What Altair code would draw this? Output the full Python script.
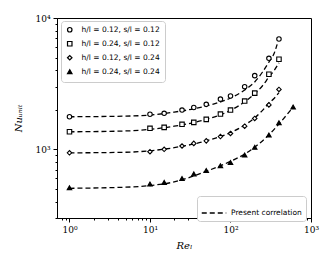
import altair as alt
import pandas as pd

# ---- data ----
series_names = ["h/l = 0.12, s/l = 0.12", "h/l = 0.24, s/l = 0.12",
                "h/l = 0.12, s/l = 0.24", "h/l = 0.24, s/l = 0.24"]

re_a = [1, 10, 15, 25, 35, 50, 75, 100, 150, 200, 300, 400]
nu_circ = [1770, 1850, 1880, 1990, 2080, 2200, 2410, 2550, 3000, 3640, 4930, 6920]
nu_sq = [1360, 1445, 1470, 1550, 1605, 1690, 1855, 1990, 2330, 2680, 3730, 4850]
nu_dia = [940, 960, 1000, 1060, 1110, 1160, 1250, 1320, 1500, 1720, 2180, 2860]
re_tri = [1, 10, 15, 25, 35, 50, 75, 100, 150, 200, 300, 400, 600]
nu_tri = [510, 545, 560, 600, 650, 690, 750, 795, 905, 1035, 1285, 1595, 2100]

corr_re = [1, 5, 10, 20, 50, 100, 150, 200, 250, 300, 350, 380]
corr_circ = [1770, 1790, 1825, 1920, 2140, 2460, 2830, 3260, 3880, 4620, 5410, 6300]
corr_re_b = [1, 5, 10, 20, 50, 100, 150, 200, 250, 300, 350, 400]
corr_sq = [1360, 1380, 1420, 1500, 1690, 1980, 2300, 2650, 3050, 3550, 4000, 4550]
corr_dia = [940, 950, 975, 1030, 1160, 1340, 1530, 1740, 1980, 2250, 2450, 2700]
corr_re_t = [1, 5, 10, 20, 50, 100, 150, 200, 300, 400, 500, 600]
corr_tri = [505, 515, 530, 565, 680, 810, 920, 1040, 1290, 1560, 1830, 2100]

x_ticks = [0.8, 0.9] + [m * 10 ** e for e in range(0, 3) for m in range(1, 10)] + [1000]
y_ticks = [300, 400, 500, 600, 700, 800, 900, 1000, 2000, 3000, 4000, 5000,
           6000, 7000, 8000, 9000, 10000]

# ---- tables ----
pts = []
for name, xs, ys in [(series_names[0], re_a, nu_circ), (series_names[1], re_a, nu_sq),
                     (series_names[2], re_a, nu_dia), (series_names[3], re_tri, nu_tri)]:
    for x, y in zip(xs, ys):
        pts.append({"series": name, "Re": x, "Nu": y})
df_pts = pd.DataFrame(pts)

crv = []
for name, xs, ys in [(series_names[0], corr_re, corr_circ), (series_names[1], corr_re_b, corr_sq),
                     (series_names[2], corr_re_b, corr_dia), (series_names[3], corr_re_t, corr_tri)]:
    for x, y in zip(xs, ys):
        crv.append({"series": name, "Re": x, "Nu": y, "kind": "Present correlation"})
df_crv = pd.DataFrame(crv)

decade = "abs(log(datum.value)/LN10 - round(log(datum.value)/LN10)) < 1e-6"
sup = "['\u2070','\u00b9','\u00b2','\u00b3','\u2074'][round(log(datum.value)/LN10)]"
label_expr = f"({decade}) ? '10' + {sup} : ''"

x_enc = alt.X("Re:Q", scale=alt.Scale(type="log", domain=[0.7, 1000], nice=False),
              axis=alt.Axis(values=x_ticks, labelExpr=label_expr, title="Re\u2097",
                            tickSize=alt.condition(decade, alt.value(4), alt.value(2)),
                            grid=False, labelFlush=False, labelOverlap=False,
                            labelFont="DejaVu Serif", labelFontSize=9, labelPadding=3,
                            titleFont="DejaVu Serif", titleFontStyle="italic",
                            titleFontWeight="normal", titleFontSize=10, titlePadding=6))
y_enc = alt.Y("Nu:Q", scale=alt.Scale(type="log", domain=[300, 10000], nice=False),
              axis=alt.Axis(values=y_ticks, labelExpr=label_expr, title="Nu\u1d64\u2099\u1d62\u209c",
                            tickSize=alt.condition(decade, alt.value(4), alt.value(2)),
                            grid=False, labelFlush=False, labelOverlap=False,
                            labelFont="DejaVu Serif", labelFontSize=9, labelPadding=3,
                            titleFont="DejaVu Serif", titleFontStyle="italic",
                            titleFontWeight="normal", titleFontSize=10, titlePadding=11))

lines = alt.Chart(df_crv).mark_line(color="black", strokeWidth=1.3, interpolate="monotone").encode(
    x=x_enc, y=y_enc, detail="series:N",
    strokeDash=alt.StrokeDash("kind:N", scale=alt.Scale(domain=["Present correlation"], range=[[5, 3]]),
                              legend=alt.Legend(title=None, orient="none", legendX=140, legendY=178,
                                                symbolType="stroke", symbolSize=600,
                                                symbolStrokeColor="black", symbolStrokeWidth=1.3,
                                                labelFont="DejaVu Sans", labelFontSize=7.5,
                                                strokeColor="#cccccc", fillColor="white",
                                                padding=4, cornerRadius=3)))

leg = dict(title=None, orient="none", legendX=4, legendY=3, strokeColor="#cccccc",
           fillColor="white", padding=5, cornerRadius=3, labelFont="DejaVu Sans",
           labelFontSize=7.5, symbolSize=20, symbolStrokeColor="black",
           symbolStrokeWidth=1.2, rowPadding=4, labelOffset=8)

points = alt.Chart(df_pts).mark_point(filled=True, strokeWidth=1.1, size=20,
                                      opacity=1).encode(
    x=x_enc, y=y_enc,
    shape=alt.Shape("series:N", sort=series_names,
                    scale=alt.Scale(domain=series_names,
                                    range=["circle", "square", "diamond", "triangle-up"]),
                    legend=alt.Legend(**leg)),
    fill=alt.Fill("series:N", sort=series_names,
                  scale=alt.Scale(domain=series_names, range=["white", "white", "white", "black"]),
                  legend=alt.Legend(**leg)),
    stroke=alt.Stroke("series:N", sort=series_names,
                      scale=alt.Scale(domain=series_names, range=["black", "black", "black", "black"]),
                      legend=alt.Legend(**leg)))

chart = alt.layer(lines, points).properties(
    width=254, height=200,
    padding={"left": 49, "top": 10, "right": 16, "bottom": 42},
    autosize=alt.AutoSizeParams(type="none"),
).configure_view(stroke="black", strokeWidth=1).configure_axis(
    domainColor="black", tickColor="black", labelColor="black", titleColor="black"
)

chart.save("out.html", embed_options={"renderer": "svg", "actions": False})
